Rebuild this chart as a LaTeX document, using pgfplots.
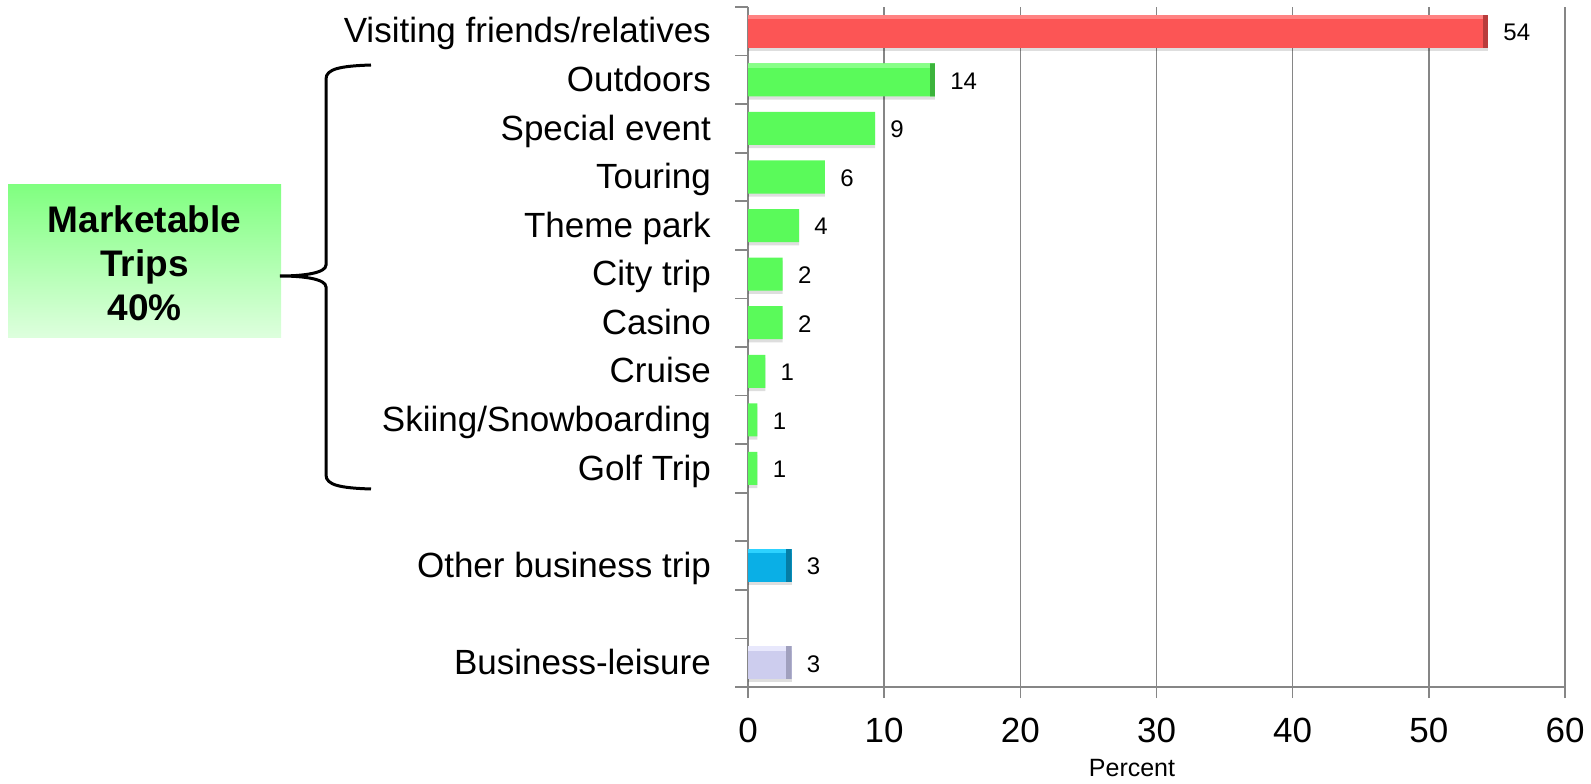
\documentclass[border=0pt]{standalone}
\usepackage{fontspec}
\setmainfont{Liberation Sans}
\usepackage{pgfplots}
\pgfplotsset{compat=1.18}
\usepackage{pgfplotstable}

\definecolor{gridgray}{RGB}{134,134,134}
\definecolor{redmain}{RGB}{252,85,85}
\definecolor{redtop}{RGB}{255,130,130}
\definecolor{redside}{RGB}{185,60,60}
\definecolor{greenmain}{RGB}{90,250,90}
\definecolor{greentop}{RGB}{135,255,135}
\definecolor{greenside}{RGB}{60,180,60}
\definecolor{bluemain}{RGB}{10,175,230}
\definecolor{bluetop}{RGB}{45,210,255}
\definecolor{blueside}{RGB}{5,125,165}
\definecolor{lavmain}{RGB}{205,205,238}
\definecolor{lavtop}{RGB}{232,232,252}
\definecolor{lavside}{RGB}{160,160,190}
\definecolor{boxtop}{RGB}{128,255,128}
\definecolor{boxbot}{RGB}{222,255,222}

\pgfplotstableread{
x y lab
54.35 13 54
}\redtab
\pgfplotstableread{
x y lab
13.73 12 14
9.33 11 9
5.65 10 6
3.75 9 4
2.55 8 2
2.55 7 2
1.27 6 1
0.69 5 1
0.69 4 1
}\greentab
\pgfplotstableread{
x y lab
3.2 2 3
}\bluetab
\pgfplotstableread{
x y lab
3.2 0 3
}\lavtab

\pgfplotsset{
  bevel/.style n args={3}{
    xbar, bar width=0.68, bar shift=0pt, draw=none, fill=#1,
    path picture={
      \fill[#2, path picture={}] (path picture bounding box.north west) rectangle ([yshift=-2.2pt]path picture bounding box.north east);
      \fill[#3, path picture={}] ([xshift=-2.6pt]path picture bounding box.south east) rectangle (path picture bounding box.north east);
    },
    nodes near coords, point meta=explicit symbolic,
    nodes near coords style={anchor=mid west, inner sep=0pt, xshift=7.5pt, yshift=-2pt, text=black, font=\fontsize{12}{14}\selectfont},
  },
  shadowbar/.style={
    xbar, bar width=0.68, bar shift=-1.6pt, draw=none, fill=black, fill opacity=0.13, forget plot,
  },
}

\begin{document}
\begin{tikzpicture}
\begin{axis}[
  at={(374pt,48pt)}, anchor=south west,
  scale only axis, width=408.5pt, height=340pt,
  xmin=0, xmax=60, ymin=-0.5, ymax=13.5,
  axis x line*=bottom, axis y line*=left,
  axis line style={-, draw=gridgray, line width=0.8pt},
  xtick={0,10,...,60},
  xmajorgrids, grid style={draw=gridgray, line width=0.8pt},
  tick align=outside,
  major tick length=5.5pt, minor tick length=6.5pt,
  major x tick style={draw=gridgray, line width=0.8pt},
  major y tick style={draw=none},
  minor y tick style={draw=gridgray, line width=0.8pt},
  ytick={0,2,4,5,6,7,8,9,10,11,12,13},
  yticklabels={Business-leisure, Other business trip, Golf Trip, Skiing/Snowboarding, Cruise, Casino, City trip, Theme park, Touring, Special event, Outdoors, Visiting friends/relatives},
  minor ytick={-0.5,0.5,...,13.5},
  /pgf/number format/assume math mode=true,
  xticklabel style={font=\fontsize{17.5}{20}\selectfont, anchor=north, inner sep=0pt, yshift=-10pt},
  yticklabel style={font=\fontsize{17.5}{20}\selectfont, anchor=mid east, inner sep=0pt, xshift=-12.9pt, yshift=-3.2pt},
  clip=false,
]
\addplot[shadowbar] table[x=x, y=y] {\redtab};
\addplot[shadowbar] table[x=x, y=y] {\greentab};
\addplot[shadowbar] table[x=x, y=y] {\bluetab};
\addplot[shadowbar] table[x=x, y=y] {\lavtab};
\addplot[bevel={redmain}{redtop}{redside}] table[x=x, y=y, meta=lab] {\redtab};
\addplot[bevel={greenmain}{greentop}{greenside}] table[x=x, y=y, meta=lab] {\greentab};
\addplot[bevel={bluemain}{bluetop}{blueside}] table[x=x, y=y, meta=lab] {\bluetab};
\addplot[bevel={lavmain}{lavtop}{lavside}] table[x=x, y=y, meta=lab] {\lavtab};
\end{axis}

% x label
\node[anchor=base, inner sep=0pt, font=\fontsize{12.5}{14}\selectfont] at (566pt,3.5pt) {Percent};

% box
\shade[top color=boxtop, bottom color=boxbot] (4pt,222.5pt) rectangle (140.5pt,299pt);
\node[anchor=base, align=center, inner sep=0pt, font=\fontsize{18.5}{22.25}\selectfont\bfseries] at (72.25pt,231pt) {Marketable\\Trips\\40\%};

% brace
\draw[line width=1.5pt] (185.5pt,359pt) .. controls (170pt,358.5pt) and (163pt,357pt) .. (163pt,352pt)
  -- (163pt,259pt) .. controls (163pt,255pt) and (152pt,253.5pt) .. (140pt,253.5pt)
  .. controls (152pt,253.5pt) and (163pt,252pt) .. (163pt,248pt)
  -- (163pt,154pt) .. controls (163pt,149pt) and (170pt,147.5pt) .. (185.5pt,147pt);

\pgfresetboundingbox
\path[use as bounding box] (0,0) rectangle (795.5pt,391.5pt);
\end{tikzpicture}
\end{document}
